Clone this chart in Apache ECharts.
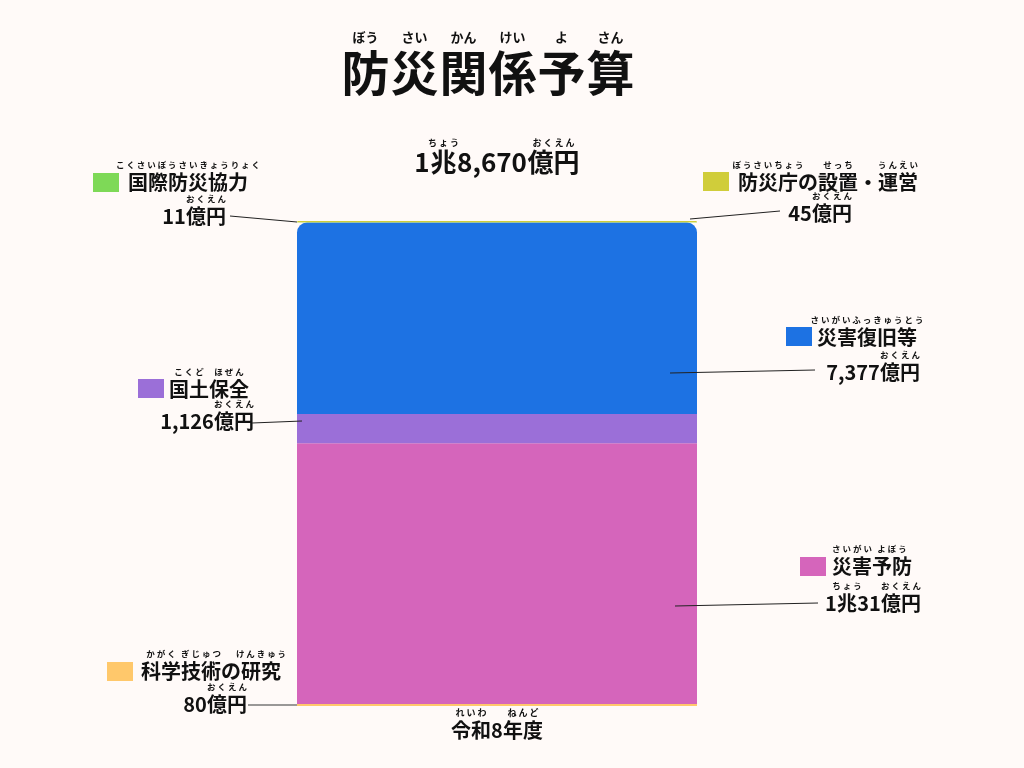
<!DOCTYPE html>
<html>
<head>
<meta charset="utf-8">
<script src="https://cdn.jsdelivr.net/npm/echarts@6/dist/echarts.min.js"></script>
<style>
html, body { margin: 0; padding: 0; background: #fffaf8; }
#chart { width: 1024px; height: 768px; }
</style>
</head>
<body>
<div id="chart"></div>
<script>
// data, bottom of the stack first
var categories = ['令和8年度'];
var names = ['科学技術の研究', '災害予防', '国土保全', '災害復旧等', '国際防災協力', '防災庁の設置・運営'];
var values = [80, 10031, 1126, 7377, 11, 45];
var colors = ['#ffc86b', '#d565bb', '#9b6fd8', '#1d72e3', '#7ed957', '#d0cd3a'];

// furigana
var titleRuby = [['防', 'ぼう'], ['災', 'さい'], ['関', 'かん'], ['係', 'けい'], ['予', 'よ'], ['算', 'さん']];
var categoryRuby = [['令和', 'れいわ'], ['8', ''], ['年度', 'ねんど']];
var nameRuby = [
    [['科学', 'かがく'], ['技術', 'ぎじゅつ'], ['の', ''], ['研究', 'けんきゅう']],
    [['災害', 'さいがい'], ['予防', 'よぼう']],
    [['国土', 'こくど'], ['保全', 'ほぜん']],
    [['災害復旧等', 'さいがいふっきゅうとう']],
    [['国際防災協力', 'こくさいぼうさいきょうりょく']],
    [['防災庁', 'ぼうさいちょう'], ['の', ''], ['設置', 'せっち'], ['・', ''], ['運営', 'うんえい']]
];

// where each annotation sits (name centre, value centre, colour square, leader line)
var layout = [
    {nx: 211, ny: 671, vx: 215, vy: 704, sx: 107, sy: 662, line: [248, 705, 297, 705], stroke: '#777'},
    {nx: 872, ny: 566, vx: 873, vy: 603, sx: 800, sy: 557, line: [675, 606, 818, 603]},
    {nx: 209, ny: 389, vx: 207, vy: 421, sx: 138, sy: 379, line: [252, 423, 302, 421]},
    {nx: 867, ny: 337, vx: 873, vy: 372, sx: 786, sy: 327, line: [670, 373, 815, 370]},
    {nx: 188, ny: 182, vx: 194, vy: 216, sx: 93, sy: 173, line: [230, 216, 297, 222]},
    {nx: 828, ny: 182, vx: 820, vy: 213, sx: 703, sy: 172, line: [690, 219, 780, 211]}
];

var INK = '#111111';
var FONT = '"Noto Sans CJK JP", sans-serif';
var ctx = document.createElement('canvas').getContext('2d');

function measure(s, size) {
    ctx.font = 'bold ' + size + 'px ' + FONT;
    return ctx.measureText(s).width;
}

// builds a two line rich text: kana on top, each centred over its base text
function ruby(key, parts, size, kanaSize, kanaLh, baseLh, spaced) {
    var top = '', bottom = '', rich = {};
    parts.forEach(function (p, i) {
        var w = Math.ceil(measure(p[0], size));
        var kana = p[1] ? (spaced ? p[1].split('').join(' ') : p[1]) : ' ';
        rich[key + 'k' + i] = {width: w, align: 'center', fontSize: kanaSize, fontWeight: 'bold', fontFamily: FONT,
            lineHeight: kanaLh, color: INK, fill: INK};
        rich[key + 'b' + i] = {width: w, align: 'center', fontSize: size, fontWeight: 'bold', fontFamily: FONT,
            lineHeight: baseLh, color: INK, fill: INK};
        top += '{' + key + 'k' + i + '|' + kana + '}';
        bottom += '{' + key + 'b' + i + '|' + p[0] + '}';
    });
    return {text: top + '\n' + bottom, rich: rich};
}

function valueParts(v) {
    var p = [];
    if (v >= 10000) {
        p.push([String(Math.floor(v / 10000)), '']);
        p.push(['兆', 'ちょう']);
        v = v % 10000;
    }
    p.push([v.toLocaleString('en-US'), '']);
    p.push(['億円', 'おくえん']);
    return p;
}

var total = values.reduce(function (a, b) { return a + b; }, 0);
var totalText = ruby('tot', valueParts(total), 26, 9, 12, 26, true);
var catText = ruby('cat', categoryRuby, 20, 9, 10, 24, true);
var titleText = ruby('ttl', titleRuby, 48, 13, 16, 56, false);

var graphics = [{
    type: 'text', x: 488, y: 29,
    style: {text: titleText.text, rich: titleText.rich, align: 'center', verticalAlign: 'top'}
}];

layout.forEach(function (l, i) {
    var n = ruby('n' + i, nameRuby[i], 20, 8.5, 10, 24, true);
    var v = ruby('v' + i, valueParts(values[i]), 20, 8.5, 10, 24, true);
    graphics.push({type: 'rect', shape: {x: l.sx, y: l.sy, width: 26, height: 19}, style: {fill: colors[i]}});
    graphics.push({type: 'text', x: l.nx, y: l.ny - 22, style: {text: n.text, rich: n.rich, align: 'center', verticalAlign: 'top'}});
    graphics.push({type: 'text', x: l.vx, y: l.vy - 22, style: {text: v.text, rich: v.rich, align: 'center', verticalAlign: 'top'}});
    graphics.push({type: 'line', z: 100,
        shape: {x1: l.line[0], y1: l.line[1], x2: l.line[2], y2: l.line[3]},
        style: {stroke: l.stroke || '#222', lineWidth: l.stroke ? 1.5 : 1}});
});

var chart = echarts.init(document.getElementById('chart'));
chart.setOption({
    backgroundColor: '#fffaf8',
    animation: false,
    grid: {left: 297, top: 221, width: 400, height: 485},
    xAxis: {
        type: 'category',
        data: categories,
        axisLine: {show: false},
        axisTick: {show: false},
        axisLabel: {
            margin: 2,
            formatter: function () { return catText.text; },
            rich: catText.rich
        }
    },
    yAxis: {type: 'value', min: 0, max: total, show: false},
    series: names.map(function (n, i) {
        var last = i === names.length - 1;
        return {
            name: n,
            type: 'bar',
            stack: 'total',
            barWidth: '100%',
            data: [values[i]],
            itemStyle: {color: colors[i], borderRadius: i >= 3 ? [10, 10, 0, 0] : 0},
            emphasis: {disabled: true},
            label: last ? {
                show: true,
                position: 'top',
                distance: 46,
                formatter: function () { return totalText.text; },
                rich: totalText.rich
            } : {show: false}
        };
    }),
    graphic: {elements: graphics}
});
</script>
</body>
</html>
